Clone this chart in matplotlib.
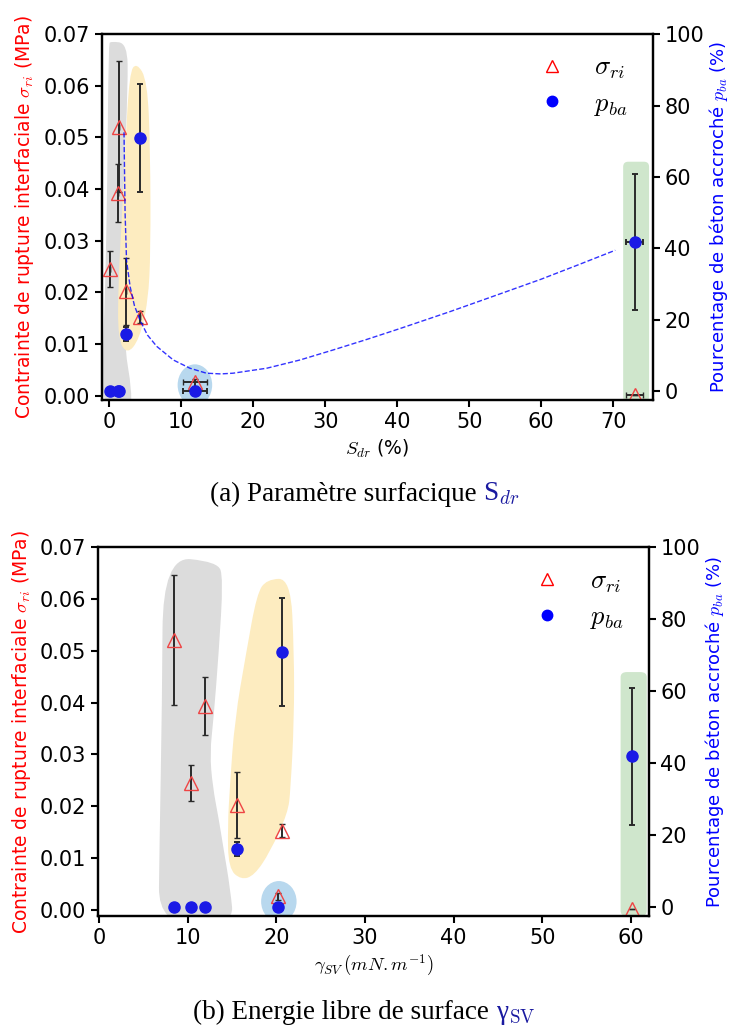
import numpy as np
import matplotlib
matplotlib.use("Agg")
import matplotlib.pyplot as plt
from matplotlib.patches import PathPatch, Ellipse, FancyBboxPatch
from matplotlib.path import Path
from matplotlib.lines import Line2D

plt.rcParams["mathtext.fontset"] = "cm"
plt.rcParams["font.family"] = ["DejaVu Sans"]

# samples (7 surfaces)
sdr = [0.1, 1.25, 1.4, 2.3, 4.26, 11.9, 73.0]
sdr_err = [0, 0, 0, 0, 0, 1.7, 1.15]
gamma_sv = [10.4, 11.95, 8.45, 15.6, 20.6, 20.2, 60.1]
sigma_ri = [0.0245, 0.0393, 0.0521, 0.0202, 0.0153, 0.0026, 0.0002]
sigma_err = [0.0035, 0.0056, 0.0126, 0.0064, 0.0012, 0.0007, 0.0]
p_ba = [0, 0, 0, 16.0, 70.9, 0, 41.8]
p_err = [0, 0, 0, 1.9, 15.1, 0, 19.0]

# dashed fit curve (Sdr, p_ba)
fit_x = [2.05, 2.2, 2.4, 2.9, 3.5, 4.26, 5.3, 6.6, 8.9, 11.2, 13.5, 15.5, 17.2,
         21.9, 26.5, 31.1, 35.7, 40.4, 47.3, 54.3, 60.0, 65.0, 70.3]
fit_y = [72.5, 50, 36.7, 29.3, 24, 20, 15.8, 12.6, 8.8, 6.5, 5.1, 4.9, 5.1,
         6.5, 8.8, 11.6, 14.5, 17.6, 22.3, 27.3, 31.4, 35.3, 39.5]

# shaded groups, top chart (Sdr, sigma)
gray_a = [(0.2, 0.0686), (2.5, 0.0682), (2.6, 0.0602), (2.0, 0.0409), (1.75, 0.0216),
          (2.2, 0.0087), (3.1, 0.0015), (3.0, -0.003), (-1.0, -0.003), (-0.85, 0.010),
          (-0.55, 0.0216), (-0.27, 0.0409), (-0.1, 0.068)]
yellow_a = [(3.8, 0.0645), (5.3, 0.0610), (5.7, 0.0473), (5.75, 0.028), (5.4, 0.0183),
            (4.2, 0.0110), (2.5, 0.0080), (1.2, 0.0110), (1.25, 0.0216), (1.75, 0.0345),
            (2.2, 0.0473), (2.8, 0.0625)]
# shaded groups, bottom chart (gamma, sigma)
gray_b = [(7.2, 0.0682), (13.4, 0.0672), (14.0, 0.0640), (13.5, 0.0497), (12.9, 0.0367),
          (12.5, 0.0303), (12.8, 0.0239), (13.5, 0.0175), (14.0, 0.0122),
          (14.8, 0.0040), (15.2, -0.003), (6.7, -0.003), (6.8, 0.0116), (7.1, 0.04)]
yellow_b = [(18.9, 0.0638), (21.6, 0.0640), (22.0, 0.0497), (22.0, 0.0367),
            (21.6, 0.0232), (21.3, 0.0187), (19.3, 0.0112), (17.5, 0.0066), (16.0, 0.0058),
            (14.6, 0.0080), (14.5, 0.0160), (14.75, 0.0239),
            (15.3, 0.0367), (16.6, 0.0497), (17.8, 0.0610)]

fig = plt.figure(figsize=(7.29, 10.32), dpi=100)

ax_a = fig.add_axes([0.1395, 0.6124, 0.7558, 0.3546])
ax_b = fig.add_axes([0.1348, 0.1124, 0.7548, 0.3573])

tri_col = "#ee4444"
dot_col = "#1a1ae6"
err_col = "#2a2a2a"


def blob(pts, color):
    # closed smooth outline: vertices as quadratic control points
    pts = np.asarray(pts, float)
    mids = (pts + np.roll(pts, -1, axis=0)) / 2
    verts = [mids[-1]]
    codes = [Path.MOVETO]
    for i in range(len(pts)):
        verts += [pts[i], mids[i]]
        codes += [Path.CURVE3, Path.CURVE3]
    return PathPatch(Path(verts, codes), fc=color, ec="none", zorder=0)


def draw(ax, xs, xerr, gray, yellow, ell, green, xlim, xticks, xlabel):
    ax2 = ax.twinx()
    ax.add_patch(blob(gray, "#dcdcdc"))
    ax.add_patch(blob(yellow, "#fdecc0"))
    ax.add_patch(Ellipse(ell[0], ell[1], ell[2], fc="#b8d8ee", ec="none", zorder=0))
    ax.add_patch(FancyBboxPatch((green[0], -0.0012), green[1] - green[0], green[2] + 0.0012,
                                boxstyle="round,pad=0,rounding_size=0.7",
                                mutation_aspect=0.0014, fc="#cfe6cc", ec="none", zorder=0))

    ax.errorbar(xs, sigma_ri, yerr=sigma_err, xerr=xerr, fmt="^", ms=9.5, mfc="none",
                mec=tri_col, mew=1.0, ecolor=err_col, elinewidth=1.4, capsize=2.5,
                capthick=1.4, zorder=3)
    ax2.errorbar(xs, p_ba, yerr=p_err, xerr=xerr, fmt="o", ms=8, color=dot_col,
                 ecolor=err_col, elinewidth=1.4, capsize=2.5, capthick=1.4, zorder=3)

    ax.set_xlim(*xlim)
    ax.set_ylim(-0.0008, 0.07)
    ax2.set_ylim(-2.4, 100)
    ax.set_xticks(xticks)
    ax.set_yticks(np.arange(0, 0.071, 0.01))
    ax.yaxis.set_major_formatter(matplotlib.ticker.FormatStrFormatter("%.2f"))
    ax2.set_yticks([0, 20, 40, 60, 80, 100])
    ax.set_xlabel(xlabel, fontsize=13.5, labelpad=4)
    ax.set_ylabel(r"Contrainte de rupture interfaciale $\sigma_{ri}$ (MPa)",
                  color="red", fontsize=13.5, labelpad=5)
    ax2.set_ylabel(r"Pourcentage de béton accroché $p_{ba}$ (%)",
                   color="blue", fontsize=13, labelpad=2)
    for a in (ax, ax2):
        for s in a.spines.values():
            s.set_linewidth(1.6)
        a.tick_params(labelsize=15, width=1.5, length=5)
    handles = [Line2D([], [], ls="none", marker="^", ms=8, mfc="none", mec="red", mew=1.0),
               Line2D([], [], ls="none", marker="o", ms=7.5, color="blue")]
    ax2.legend(handles, [r"$\sigma_{ri}$", r"$p_{ba}$"], loc="upper right",
               frameon=False, fontsize=19, handletextpad=0.6, labelspacing=0.35,
               borderaxespad=0.25, bbox_to_anchor=(0.985, 0.99))
    return ax2


ax2_a = draw(ax_a, sdr, sdr_err, gray_a, yellow_a, ((11.9, 0.0021), 4.8, 0.008),
             (71.4, 75.0, 0.0453), (-1.05, 75.5), range(0, 71, 10), r"$S_{dr}$ (%)")
ax2_a.plot(fit_x, fit_y, "--", color="blue", lw=1.0, alpha=0.8, zorder=2)

ax2_b = draw(ax_b, gamma_sv, None, gray_b, yellow_b, ((20.28, 0.0016), 4.0, 0.0079),
             (58.85, 61.8, 0.0459), (-0.1, 62.0), range(0, 61, 10),
             r"$\gamma_{SV}\,(mN.m^{-1})$")
ax_b.set_ylim(-0.0012, 0.07)
ax2_b.set_ylim(-2.6, 100)

# captions: black part then blue symbol right after it
cap_font = dict(family=["Liberation Serif", "DejaVu Serif"], fontsize=19.5)
fig.canvas.draw()
renderer = fig.canvas.get_renderer()
for y, txt, sym in [(0.515, "(a) Paramètre surfacique ", r"S$_{dr}$"),
                    (0.013, "(b) Energie libre de surface ", r"γ$_\mathrm{SV}$")]:
    t1 = fig.text(0.5, y, txt, ha="left", va="baseline", **cap_font)
    t2 = fig.text(0.5, y, sym, ha="left", va="baseline", color="#1a1aa0", **cap_font)
    w1 = t1.get_window_extent(renderer).width
    w2 = t2.get_window_extent(renderer).width
    x0 = (729 * 0.5 - (w1 + w2) / 2) / 729
    t1.set_x(x0)
    t2.set_x(x0 + w1 / 729)

fig.savefig("out.png", dpi=100)
